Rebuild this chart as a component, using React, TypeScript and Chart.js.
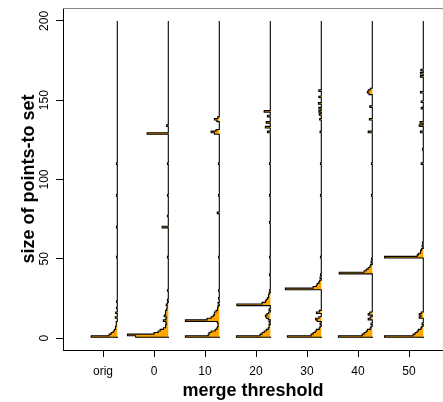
import React, { useEffect, useRef } from "react";
import { Chart, registerables } from "chart.js";

Chart.register(...registerables);

// ---- data ----
const categories = ["orig", "0", "10", "20", "30", "40", "50"];
const yTicks = [0, 50, 100, 150, 200];
const sizeMax = 200;

// [size of points-to set, relative frequency (0..1)]
const origHist: number[][] = [
  [1, 0.64], [2, 0.2], [3, 0.15], [4, 0.1], [5, 0.07], [6, 0.05], [7, 0.04], [8, 0.03],
  [9, 0.03], [10, 0.02], [13, 0.05], [16, 0.04], [19, 0.02], [23, 0.02], [51, 0.02],
  [70, 0.02], [90, 0.02], [110, 0.02],
];
const t0Hist: number[][] = [
  [1, 0.8], [2, 1.0], [3, 0.35], [4, 0.25], [5, 0.2], [6, 0.12], [7, 0.08], [8, 0.06],
  [9, 0.05], [10, 0.06], [11, 0.12], [12, 0.06], [13, 0.05], [14, 0.1], [15, 0.08],
  [16, 0.06], [17, 0.07], [18, 0.04], [19, 0.03], [20, 0.03], [21, 0.05], [22, 0.02],
  [24, 0.02], [30, 0.02], [51, 0.02], [70, 0.15], [77, 0.02], [90, 0.02], [110, 0.02],
  [129, 0.52], [134, 0.04],
];
const t10Hist: number[][] = [
  [1, 0.83], [2, 0.27], [3, 0.25], [4, 0.2], [5, 0.1], [6, 0.06], [7, 0.04], [8, 0.03],
  [9, 0.03], [10, 0.05], [11, 0.83], [12, 0.3], [13, 0.2], [14, 0.15], [15, 0.12],
  [16, 0.12], [17, 0.08], [18, 0.05], [19, 0.04], [20, 0.03], [22, 0.03], [25, 0.02],
  [30, 0.02], [51, 0.02], [79, 0.05], [90, 0.02], [110, 0.02], [129, 0.12], [130, 0.2],
  [131, 0.08], [137, 0.06], [138, 0.12], [139, 0.04],
];
const t20Hist: number[][] = [
  [1, 0.83], [2, 0.25], [3, 0.2], [4, 0.15], [5, 0.1], [6, 0.05], [7, 0.03], [8, 0.03],
  [10, 0.03], [12, 0.05], [13, 0.1], [14, 0.12], [15, 0.08], [16, 0.04], [18, 0.03],
  [21, 0.82], [22, 0.2], [23, 0.12], [24, 0.1], [25, 0.07], [26, 0.05], [27, 0.04],
  [28, 0.03], [30, 0.02], [40, 0.02], [51, 0.02], [73, 0.02], [90, 0.02], [110, 0.02],
  [130, 0.07], [133, 0.12], [136, 0.1], [140, 0.07], [143, 0.15],
];
const t30Hist: number[][] = [
  [1, 0.83], [2, 0.25], [3, 0.2], [4, 0.15], [5, 0.12], [6, 0.05], [7, 0.03], [9, 0.03],
  [11, 0.1], [12, 0.14], [13, 0.06], [16, 0.12], [17, 0.05], [31, 0.88], [32, 0.2],
  [33, 0.12], [34, 0.1], [35, 0.06], [36, 0.04], [38, 0.03], [40, 0.02], [51, 0.02],
  [90, 0.02], [110, 0.02], [130, 0.03], [138, 0.04], [141, 0.05], [143, 0.06],
  [145, 0.06], [148, 0.07], [152, 0.06], [156, 0.06],
];
const t40Hist: number[][] = [
  [1, 0.83], [2, 0.25], [3, 0.2], [4, 0.15], [5, 0.12], [6, 0.05], [7, 0.03], [9, 0.03],
  [12, 0.1], [13, 0.05], [15, 0.1], [16, 0.06], [41, 0.81], [42, 0.2], [43, 0.15],
  [44, 0.1], [45, 0.06], [46, 0.04], [48, 0.03], [50, 0.02], [90, 0.02], [110, 0.02],
  [130, 0.1], [138, 0.07], [146, 0.06], [154, 0.08], [155, 0.12], [156, 0.1], [157, 0.05],
];
const t50Hist: number[][] = [
  [1, 0.95], [2, 0.25], [3, 0.2], [4, 0.15], [5, 0.12], [6, 0.06], [7, 0.04], [9, 0.03],
  [13, 0.1], [14, 0.06], [15, 0.1], [16, 0.05], [51, 0.95], [52, 0.15], [53, 0.12],
  [54, 0.08], [55, 0.06], [56, 0.04], [58, 0.03], [60, 0.02], [110, 0.05], [119, 0.02],
  [130, 0.07], [134, 0.1], [136, 0.08], [145, 0.05], [149, 0.05], [155, 0.07],
  [165, 0.07], [167, 0.07], [169, 0.06],
];
const histograms = [origHist, t0Hist, t10Hist, t20Hist, t30Hist, t40Hist, t50Hist];

// ---- layout / style constants ----
const WIDTH_SCALE = 0.8; // x-units for relative frequency 1
const LINE_OFFSET = 14.3 / 51; // baseline line right of category position
const FONT = "'Liberation Sans', Arial, Helvetica, sans-serif";

function buildPolygon(hist: number[][], idx: number) {
  const xr = idx + 1 + LINE_OFFSET;
  const pts: { x: number; y: number }[] = [{ x: xr, y: 0 }];
  const sorted = [...hist].sort((a, b) => a[0] - b[0]);
  let prev = -Infinity;
  for (const [s, f] of sorted) {
    const lo = s - 0.5;
    const hi = s + 0.5;
    const xl = xr - f * WIDTH_SCALE;
    if (s !== prev + 1) {
      if (prev > -Infinity) pts.push({ x: xr, y: prev + 0.5 });
      pts.push({ x: xr, y: lo });
    }
    pts.push({ x: xl, y: lo }, { x: xl, y: hi });
    prev = s;
  }
  if (prev > -Infinity) pts.push({ x: xr, y: prev + 0.5 });
  pts.push({ x: xr, y: sizeMax });
  return pts;
}

const topBorder = {
  id: "topBorder",
  afterDraw(chart: any) {
    const { ctx, chartArea } = chart;
    ctx.save();
    ctx.strokeStyle = "#888";
    ctx.lineWidth = 1;
    ctx.beginPath();
    ctx.moveTo(chartArea.left, Math.round(chartArea.top) + 0.5);
    ctx.lineTo(chartArea.right, Math.round(chartArea.top) + 0.5);
    ctx.stroke();
    ctx.restore();
  },
};

export default function App() {
  const ref = useRef<HTMLCanvasElement>(null);
  useEffect(() => {
    if (!ref.current) return;
    const datasets = histograms.map((h, i) => ({
      label: categories[i],
      data: buildPolygon(h, i),
      showLine: true,
      fill: "shape",
      backgroundColor: "#FFA500",
      borderColor: "#000",
      borderWidth: 1.1,
      pointRadius: 0,
      pointHoverRadius: 0,
      tension: 0,
    }));
    const chart = new Chart(ref.current, {
      type: "scatter",
      data: { datasets: datasets as any },
      plugins: [topBorder],
      options: {
        animation: false,
        responsive: false,
        maintainAspectRatio: false,
        events: [],
        layout: { padding: { top: 5, left: 0, right: 0, bottom: 0 } },
        plugins: { legend: { display: false }, tooltip: { enabled: false } },
        scales: {
          x: {
            type: "linear",
            min: 1 - 40 / 51,
            max: 1 + 340 / 51,
            afterBuildTicks: (s: any) => {
              s.ticks = categories.map((_, i) => ({ value: i + 1 }));
            },
            afterFit: (s: any) => {
              s.height = 52;
            },
            grid: { display: true, drawOnChartArea: false, drawTicks: true, tickLength: 7, color: "#000" },
            border: { display: true, color: "#000", width: 1 },
            ticks: {
              color: "#000",
              padding: 7.5,
              maxRotation: 0,
              autoSkip: false,
              font: { family: FONT, size: 12 },
              callback: (v: any) => categories[Math.round(Number(v)) - 1] ?? "",
            },
            title: {
              display: true,
              text: "merge threshold",
              color: "#000",
              font: { family: FONT, size: 18, weight: "bold" },
              padding: { top: 0, bottom: 0 },
            },
          },
          y: {
            type: "linear",
            min: -7.5,
            max: 208,
            afterBuildTicks: (s: any) => {
              s.ticks = yTicks.map((v) => ({ value: v }));
            },
            afterFit: (s: any) => {
              s.width = 63;
            },
            grid: { display: true, drawOnChartArea: false, drawTicks: true, tickLength: 7, color: "#000" },
            border: { display: true, color: "#000", width: 1 },
            ticks: {
              color: "#000",
              padding: 1,
              minRotation: 90,
              maxRotation: 90,
              crossAlign: "center",
              font: { family: FONT, size: 12 },
            },
            title: {
              display: true,
              text: "size of points-to set",
              color: "#000",
              font: { family: FONT, size: 18, weight: "bold" },
              padding: { top: 18, bottom: 0 },
            },
          },
        },
      } as any,
    });
    return () => chart.destroy();
  }, []);
  return (
    <div style={{ position: "absolute", left: 0, top: 0, width: 443, height: 402, background: "#fff" }}>
      <canvas ref={ref} width={443} height={402} style={{ display: "block" }} />
    </div>
  );
}
